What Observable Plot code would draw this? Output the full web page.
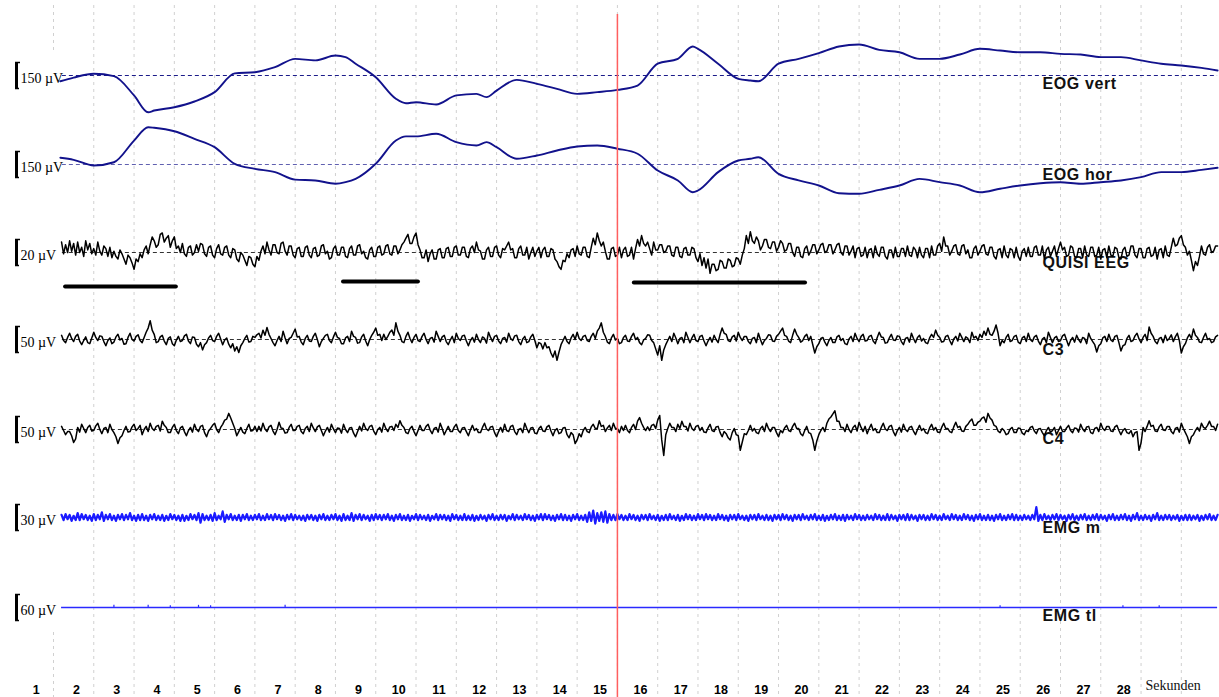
<!DOCTYPE html>
<html><head><meta charset="utf-8">
<script src="https://cdn.jsdelivr.net/npm/d3@7"></script>
<script src="https://cdn.jsdelivr.net/npm/@observablehq/plot@0.6"></script>
<style>html,body{margin:0;padding:0;background:#fff;overflow:hidden}</style>
</head><body><div id="chart"></div>
<script>
// ---- categories / labels ----
const channelNames = ["EOG vert", "EOG hor", "QUISI EEG", "C3", "C4", "EMG m", "EMG tl"];
const scaleLabels = ["150 µV", "150 µV", "20 µV", "50 µV", "50 µV", "30 µV", "60 µV"];
const scaleValues = [150, 150, 20, 50, 50, 30, 60]; // µV represented by the calibration bar
const secondLabels = d3.range(1, 29);               // 1 … 28
const gridSeconds = d3.range(1, 30);                // 1 … 29
const cursorSecond = 15;
const axisTitle = "Sekunden";

// ---- EOG (slow) series, µV ----
const eogTimes = [1.17,1.5,2,2.5,3,3.35,3.5,4,4.5,5,5.5,6,6.5,7,7.5,8,8.25,8.5,9,9.5,9.75,10,10.5,11,11.5,11.75,12,12.5,13,13.5,14,14.5,15,15.5,16,16.5,16.87,17,17.5,18,18.3,18.5,19,19.5,20,20.5,21,21.5,22,22.5,23,23.5,24,24.5,25,25.5,26,26.5,27,27.5,28,28.5,29,29.5,29.9];
const eogVert = [-33,-12,10,-4,-115,-212,-202,-183,-150,-96,12,19,48,96,87,115,106,68,-10,-134,-160,-154,-167,-115,-106,-125,-87,-25,-48,-77,-106,-96,-83,-58,68,96,167,154,68,-19,-29,-33,68,96,129,167,179,148,134,96,96,121,154,144,134,134,125,121,106,106,87,68,58,44,29];
const eogHor = [39,27,-6,13,138,215,212,192,148,100,4,-25,-44,-87,-92,-111,-102,-83,4,138,162,162,177,129,110,129,100,33,52,81,104,110,91,62,-35,-92,-160,-150,-44,23,33,42,-54,-92,-121,-166,-169,-146,-121,-83,-102,-121,-160,-140,-121,-108,-102,-111,-102,-92,-73,-44,-44,-31,-19];

// ---- EEG / EMG series, µV, one value every 0.05 s starting at 1.2 s (one row = 1 s) ----
const eegStart = 1.2, eegStep = 0.05;
const quisiEEG = [
 8,-1,6,0,9,1,7,-2,8,0,4,-3,9,2,7,-1,3,-2,8,1,
 -2,5,3,-3,4,-4,1,-3,-5,2,-1,-5,-9,-2,-4,-8,-13,-5,-7,-1,
 -4,2,5,-1,6,12,9,4,6,14,15,8,11,13,4,9,12,3,5,0,
 7,-1,-3,4,5,-2,0,6,1,7,6,-1,-3,4,5,-2,-4,3,6,-1,
 -2,4,5,-2,-4,3,2,-5,-7,0,-2,-6,-10,-3,-4,-9,-11,-3,-6,1,
 5,-1,8,2,-2,6,6,0,-1,7,8,1,-2,5,5,-2,-4,3,4,-3,
 -3,4,5,-2,-4,3,4,-3,-2,5,6,-1,1,-5,-4,3,5,-2,-2,4,
 4,-3,-4,3,5,-2,-2,5,6,-1,1,-4,-5,2,4,-3,-3,4,5,-2,
 -1,5,6,-1,-2,5,5,-1,2,6,8,11,14,7,7,12,15,6,2,-4,
 -4,2,-7,-1,2,-5,-5,2,3,-4,-4,3,4,-3,-3,4,5,-2,-2,4,
 4,-3,-4,3,5,0,8,2,1,-5,-5,2,4,-3,-3,4,5,-2,-4,3,
 2,5,8,2,3,-4,-4,3,5,-2,-2,4,-5,0,4,-3,1,4,-4,2,
 4,-3,-3,3,2,-5,-7,-11,-13,-6,-7,-1,-4,2,3,-3,5,-1,-2,4,
 4,-3,-4,4,11,6,15,9,5,8,1,-5,-5,3,4,-3,-2,4,-4,2,
 4,-3,-2,4,-5,3,10,5,13,7,5,8,3,-2,8,2,2,6,6,0,
 1,5,5,-2,-3,4,4,-3,-4,3,4,-2,-2,4,3,-4,-7,-1,-10,-4,
 -12,-5,-16,-9,-9,-14,-13,-6,-7,-12,-12,-5,-6,-11,-10,-4,-5,-9,-2,3,
 13,7,16,9,7,12,9,2,5,10,10,4,3,8,8,1,4,9,7,1,
 2,7,7,0,-3,4,4,-3,-4,3,5,-2,1,6,6,-1,2,6,7,0,
 1,6,6,-1,2,6,7,0,-2,5,5,-2,1,5,-4,3,4,-3,-2,4,
 -4,2,3,-4,5,-1,-3,4,4,-3,-5,2,2,-4,4,-3,-3,3,3,-3,
 5,-2,-3,4,2,-4,4,-2,-4,3,3,-4,5,-2,-2,5,7,1,12,5,
 5,-2,1,5,6,-1,-2,5,6,-1,2,-4,-4,3,5,-2,1,5,6,-1,
 -2,4,4,-3,-5,2,3,-4,5,-2,-4,3,2,-4,4,-3,-6,1,3,-3,
 4,-3,-3,4,5,-2,-2,5,-5,2,4,-3,1,5,-3,3,8,2,4,-3,
 -2,5,4,-3,-4,3,3,-4,5,-2,-3,4,4,-3,-2,4,-5,2,3,-4,
 5,-2,-3,4,3,-4,-5,2,4,-3,-2,5,5,-2,-4,3,3,-4,-4,3,
 4,-3,-2,4,-5,2,3,-4,5,-2,-3,4,11,5,6,11,13,6,4,-2,
 1,-6,-14,-7,-10,-3,5,-1,-2,4,6,0,1,5,5];
const c3 = [
 8,-2,-6,4,12,2,-4,6,10,-3,-10,-2,5,-6,-8,3,14,4,-2,7,
 6,-4,-12,-2,3,-8,-5,5,10,-1,2,-9,-8,4,12,0,-3,6,9,-2,
 -6,4,14,22,36,18,10,-6,-4,5,8,-3,-10,2,5,-8,-12,-1,6,-4,
 -2,7,10,-3,-8,5,4,-9,-14,-6,-20,-10,-6,3,8,-2,-4,6,12,1,
 -10,-1,3,-9,-16,-8,-22,-14,-25,-12,-6,2,8,-5,-4,6,4,9,12,3,
 18,8,23,10,2,-6,-12,-2,6,-4,16,3,-8,2,4,12,20,5,6,-5,
 -10,2,8,-3,-4,6,12,0,-14,-4,2,8,10,-2,-6,5,14,4,2,-8,
 -8,3,6,-4,16,6,4,-7,-6,5,10,-3,-12,0,8,14,22,8,10,-2,
 10,0,6,14,18,8,32,16,8,-4,-6,6,14,2,-6,4,10,-2,-4,6,
 12,0,-8,2,4,-5,16,6,-4,5,8,-4,-10,-1,6,-6,12,2,-2,7,
 8,-3,-12,-2,4,-5,10,0,-6,5,2,-7,14,4,-4,6,8,-3,-8,2,
 4,-5,12,2,-2,7,8,-4,-10,1,6,-6,-4,5,10,-2,-16,-6,-8,-18,
 -6,-16,-14,-26,-34,-22,-40,-24,-10,-2,6,-4,-8,3,10,0,14,2,-2,6,
 8,-2,-4,6,12,2,16,22,32,14,6,-5,-8,3,10,-1,2,-8,-6,4,
 8,-3,-4,6,12,0,4,-6,-10,-1,2,9,8,-2,-6,-18,-30,-12,-40,-20,
 -10,-2,6,-4,12,3,-8,2,4,-6,14,4,-6,3,10,-2,-4,6,8,-3,
 -12,-3,4,-5,8,0,-6,10,22,12,10,-2,-4,5,8,-3,14,4,-2,6,
 6,-4,-8,2,4,-6,12,0,-10,-2,2,9,8,-3,-4,6,10,16,22,8,
 6,-3,-6,8,20,10,4,-5,-2,6,10,-2,6,-10,-26,-14,-8,2,4,-5,
 -12,-2,4,-6,-6,5,8,-2,2,-8,-10,1,6,-4,12,2,-4,6,10,-3,
 -2,6,8,-3,-8,4,14,5,4,-7,-6,3,10,-1,-2,7,6,-4,-10,2,
 4,-5,12,2,-6,4,8,-3,2,-6,-8,3,10,4,18,8,4,-5,-4,6,
 8,-2,-10,1,6,-3,12,4,-4,5,2,-6,14,3,6,-2,10,4,16,8,
 22,10,8,16,28,12,-12,-2,-6,4,10,-4,-2,6,8,-5,-8,3,6,-4,
 12,0,-4,5,8,-3,-10,1,4,-6,14,4,-6,3,6,-4,-2,7,10,-1,
 -12,-2,4,-5,8,0,-6,4,2,-8,12,2,-4,-10,-24,-12,-8,3,6,-4,
 10,-1,-4,6,8,-6,-22,-12,-10,2,8,-4,-2,7,12,1,-6,4,10,-2,
 24,12,6,-4,-8,2,4,-6,8,-2,2,9,-4,5,12,-2,-26,-14,-8,3,
 10,2,20,8,4,-5,-6,4,12,0,2,-6,-4,5,8];
const c4 = [
 6,-2,-10,-4,-4,-12,-25,-18,4,-5,10,2,-6,4,8,-3,-2,7,12,0,
 -8,2,4,-6,10,0,-6,-14,-27,-16,-12,-2,6,-5,-4,5,10,-2,2,8,
 -10,0,6,-4,12,2,-2,6,8,-3,16,8,4,-6,-6,4,10,-2,-8,3,
 6,-4,-12,-2,4,-5,10,0,-4,6,8,-6,-14,-3,2,8,12,0,-6,4,
 10,18,20,31,22,12,2,-12,-4,4,-5,-8,2,10,-3,-2,6,-4,6,-3,
 12,1,-4,5,8,-3,-10,0,14,3,2,-7,-6,4,10,-2,-2,6,8,-4,
 -8,2,6,-4,12,3,-4,5,8,-2,-12,-3,4,-5,10,1,-6,3,2,-7,
 10,0,-6,3,4,-7,-14,-4,6,-3,12,2,-2,6,8,-3,-10,0,4,-5,
 12,2,-4,5,6,-2,10,4,17,8,4,-6,-8,2,6,-4,-12,-2,8,-2,
 -2,6,10,-1,-8,2,4,-5,12,2,-10,-2,6,-4,-4,5,10,-2,-6,3,
 4,-4,-12,-1,8,-2,2,-6,-6,4,12,1,-2,5,6,-6,-14,-4,4,-5,
 10,-2,-4,6,8,-4,-10,0,2,-6,12,2,-6,3,4,-7,-8,2,6,-3,
 -4,5,8,-3,-12,-2,2,-8,-6,3,4,-10,-16,-6,-10,-27,-20,-8,-14,-2,
 4,-4,-6,5,10,2,2,17,6,8,-4,3,8,-2,12,2,2,-6,6,-2,
 8,-2,-6,4,10,0,16,23,12,4,-2,5,-2,8,10,2,18,27,-20,-50,
 -10,2,12,4,4,-4,10,2,16,6,6,-3,12,2,-2,6,8,-2,4,-5,
 -6,3,10,-2,-4,5,6,-6,-14,-4,-8,-16,-20,-6,2,-10,-12,-40,-24,-8,
 -10,-2,8,-3,2,-6,-8,2,6,-4,12,2,-4,4,4,-6,-14,-2,-6,3,
 8,-2,-4,6,12,2,2,-8,-12,-2,6,-6,-8,-20,-40,-22,-10,-2,4,-4,
 12,20,24,30,36,16,16,4,4,-4,10,0,-6,4,8,-3,14,4,-4,6,
 -8,2,10,-2,2,-6,-6,4,12,1,-2,6,8,-4,-12,-2,4,-5,10,0,
 -4,4,6,-3,-10,0,8,-2,2,-6,-8,3,10,-1,4,-5,-6,4,12,2,
 2,-4,-6,5,14,4,6,-3,-4,6,10,16,20,8,8,14,16,22,24,14,
 31,22,18,8,6,-3,-6,2,-2,-10,-8,1,4,-6,-6,3,2,-7,-10,-2,
 -4,4,6,-3,-8,1,2,-6,-12,-2,4,-5,-2,4,-10,-2,6,-4,-4,3,
 8,-2,-6,3,2,-5,10,1,-4,5,6,-6,-8,2,4,-4,12,2,-2,6,
 6,-3,-4,5,8,-2,-10,-2,2,-6,-8,-2,-14,-6,-4,-40,-26,4,-4,6,
 17,6,8,-3,-4,5,10,-1,-2,6,6,-4,-8,2,4,-5,12,2,-6,-14,
 -27,-14,-10,-2,4,-3,12,4,2,8,16,6,6,-2,10];
const emgM = [
 3,-3,4,-2,3,-4,2,-3,5,-3,4,-2,3,-3,2,-4,4,-3,3,-2,
 6,-4,3,-2,4,-3,2,-4,3,-2,4,-3,3,-2,5,-3,2,-4,3,-3,
 4,-3,2,-4,3,-2,4,-3,2,-3,3,-4,2,-3,4,-2,3,-3,2,-4,
 3,-4,2,-3,4,-2,3,-3,5,-6,4,-3,2,-3,3,-4,5,-3,2,-2,
 7,-5,3,-2,4,-3,2,-3,3,-4,3,-2,4,-3,2,-3,3,-2,4,-3,
 2,-3,4,-2,3,-3,4,-2,3,-3,2,-4,3,-2,4,-3,3,-2,2,-3,
 2,-4,3,-2,3,-3,2,-4,3,-2,4,-3,2,-3,3,-2,4,-3,2,-4,
 4,-3,2,-3,5,-4,3,-2,4,-3,3,-2,2,-4,3,-3,4,-2,3,-3,
 3,-2,4,-3,2,-4,3,-2,4,-3,2,-3,3,-4,2,-2,4,-3,3,-2,
 2,-3,3,-4,2,-2,4,-3,3,-2,3,-3,2,-4,4,-2,3,-3,2,-3,
 4,-3,2,-3,3,-4,2,-3,3,-2,2,-4,3,-2,4,-3,2,-3,3,-2,
 3,-4,2,-2,4,-3,3,-2,2,-3,4,-2,3,-3,2,-4,3,-2,4,-3,
 4,-2,3,-3,2,-4,3,-2,4,-3,3,-3,2,-4,3,-2,4,-3,2,-3,
 3,-5,6,-4,8,-7,5,-4,6,-5,7,-6,4,-3,3,-3,4,-2,3,-3,
 2,-3,4,-2,3,-3,2,-4,3,-2,3,-3,4,-2,2,-3,3,-4,2,-3,
 3,-3,4,-2,2,-3,3,-4,2,-3,4,-2,3,-3,2,-3,4,-2,3,-3,
 4,-2,3,-3,2,-3,4,-2,3,-3,2,-4,3,-2,3,-3,4,-2,2,-3,
 2,-4,3,-2,3,-3,4,-2,2,-3,3,-3,2,-4,3,-2,3,-3,4,-2,
 3,-3,2,-4,3,-2,3,-3,4,-2,2,-3,3,-2,4,-3,2,-3,3,-4,
 2,-3,3,-2,4,-3,2,-3,3,-4,3,-2,2,-3,4,-2,3,-3,2,-3,
 3,-2,2,-3,4,-2,3,-3,2,-3,4,-3,3,-2,2,-4,3,-2,3,-3,
 4,-3,3,-2,2,-4,3,-2,3,-3,2,-3,4,-2,3,-3,2,-3,4,-2,
 2,-3,4,-2,3,-3,2,-3,4,-2,3,-3,2,-4,3,-2,4,-3,2,-3,
 3,-3,2,-4,3,-2,4,-3,2,-3,3,-2,4,-3,3,-3,2,-3,3,-2,
 2,-3,3,-2,12,-4,3,-3,4,-2,2,-3,3,-2,4,-3,3,-2,2,-4,
 3,-2,4,-3,2,-3,3,-2,4,-3,2,-3,3,-2,4,-3,3,-2,2,-4,
 3,-2,4,-3,2,-3,3,-2,4,-3,2,-4,3,-2,5,-3,2,-3,3,-2,
 2,-4,3,-2,5,-3,2,-3,3,-2,3,-3,2,-2,3,-4,2,-3,3,-3,
 3,-3,2,-2,3,-4,2,-3,3,-2,4,-3,2,-3,3];
// EMG tl is flat apart from tiny blips (time in s, µV)
const emgTlBlipTimes = [2.5, 3.35, 3.9, 4.6, 4.9, 6.75, 24.5, 27.55, 28.45];
const emgTlBlipValues = [5, 5, 4, 5, 4, 5, 4, 4, 4];
const traceStart = 1.2, traceEnd = 29.9;

// scored events (black bars under QUISI EEG), seconds
const eventStarts = [1.30, 8.20, 15.42];
const eventEnds = [4.05, 10.06, 19.67];

// ---- layout (pixels) ----
const W = 1219, H = 697;
const pxPerSec = 40.28, firstGridPx = 53;
const baselines = [75, 164, 252, 339, 429, 517, 607];
const nameDy = [8, 10, 10, 10, 9, 10, 8];
const barPx = 26;
const eventRows = [286, 281, 282];

const yOf = (ch, v) => baselines[ch] - v * barPx / scaleValues[ch];

const eogRows = [];
eogTimes.forEach((t, i) => {
  eogRows.push({ch: 0, t, y: yOf(0, eogVert[i])});
  eogRows.push({ch: 1, t, y: yOf(1, eogHor[i])});
});
const sampled = (arr, ch) => arr.map((v, i) => ({ch, t: eegStart + i * eegStep, y: yOf(ch, v)}));
const quisiRows = sampled(quisiEEG, 2), c3Rows = sampled(c3, 3), c4Rows = sampled(c4, 4), emgRows = sampled(emgM, 5);
const chIdx = d3.range(channelNames.length);
const xPx = px => 1 + (px - firstGridPx) / pxPerSec; // pixel → seconds for annotations
const grid = {stroke: "#d0d0d0", strokeDasharray: "3,4"};

const plot = Plot.plot({
  width: W, height: H,
  marginTop: 0, marginBottom: 0, marginLeft: 0, marginRight: 0,
  x: {domain: [1, 29], range: [firstGridPx, firstGridPx + 28 * pxPerSec], axis: null},
  y: {domain: [0, H], range: [0, H], axis: null},
  style: {background: "#fff", overflow: "visible"},
  marks: [
    // second grid
    Plot.ruleX(gridSeconds.filter(s => s > 1), {x: d => d, y1: 5, y2: H, ...grid}),
    Plot.ruleX([1], {x: d => d, y1: 5, y2: 52, ...grid}),
    Plot.ruleX([1], {x: d => d, y1: 632, y2: H, ...grid}),
    // channel baselines
    Plot.ruleY([0], {y: () => baselines[0], x1: 1.22, x2: traceEnd, stroke: "#1c1c8a", strokeDasharray: "4,3"}),
    Plot.ruleY([1], {y: () => baselines[1], x1: 1.22, x2: traceEnd, stroke: "#6060b0", strokeDasharray: "4,3"}),
    Plot.ruleY([2, 3, 4], {y: d => baselines[d], x1: 1.22, x2: traceEnd, stroke: "#333", strokeDasharray: "4,3"}),
    // channel names (under the traces)
    Plot.text(chIdx, {x: xPx(1042), y: d => baselines[d] + nameDy[d], text: d => channelNames[d],
      textAnchor: "start", lineAnchor: "middle", fontFamily: "Liberation Sans, Arial, sans-serif", fontSize: 16, fontWeight: "bold", fill: "#111"}),
    // traces
    Plot.line(eogRows, {x: "t", y: "y", z: "ch", stroke: "#12128c", strokeWidth: 1.9, curve: "monotone-x"}),
    Plot.line(quisiRows, {x: "t", y: "y", stroke: "#000", strokeWidth: 1.5}),
    Plot.line(c3Rows, {x: "t", y: "y", stroke: "#000", strokeWidth: 1.5}),
    Plot.line(c4Rows, {x: "t", y: "y", stroke: "#000", strokeWidth: 1.5}),
    Plot.line(emgRows, {x: "t", y: "y", stroke: "#1a1aff", strokeWidth: 2.2}),
    Plot.ruleY([6], {y: d => baselines[d], x1: traceStart, x2: traceEnd, stroke: "#2a2aff", strokeWidth: 1.3}),
    Plot.ruleX(emgTlBlipTimes, {x: d => d, y1: baselines[6], y2: (d, i) => yOf(6, emgTlBlipValues[i]), stroke: "#2a2aff", strokeWidth: 1.2}),
    // scored events
    Plot.ruleY(eventStarts, {y: (d, i) => eventRows[i], x1: d => d, x2: (d, i) => eventEnds[i], stroke: "#000", strokeWidth: 4, strokeLinecap: "round"}),
    // cursor
    Plot.ruleX([cursorSecond], {x: d => d, y1: 14, y2: H, stroke: "#ff5f5f", strokeWidth: 1.5}),
    // calibration bars
    Plot.ruleX(chIdx, {x: xPx(16), y1: d => baselines[d] - barPx / 2, y2: d => baselines[d] + barPx / 2, stroke: "#000", strokeWidth: 3}),
    Plot.ruleY(chIdx, {y: d => baselines[d] - barPx / 2, x1: xPx(15), x2: xPx(20), stroke: "#000", strokeWidth: 1.5}),
    Plot.ruleY(chIdx, {y: d => baselines[d] + barPx / 2, x1: xPx(15), x2: xPx(19), stroke: "#000", strokeWidth: 1.5}),
    Plot.text(chIdx, {x: xPx(20), y: d => baselines[d] + 3, text: d => scaleLabels[d], textAnchor: "start", lineAnchor: "middle",
      fontFamily: "Liberation Serif, Times New Roman, serif", fontSize: 14, fill: "#000"}),
    // time labels
    Plot.text(secondLabels, {x: d => d - 0.43, y: 689, text: d => String(d), lineAnchor: "middle",
      fontFamily: "Liberation Sans, Arial, sans-serif", fontWeight: "bold", fontSize: 12.5, fill: "#000"}),
    Plot.text([axisTitle], {x: xPx(1145), y: 685, text: d => d, textAnchor: "start", lineAnchor: "middle",
      fontFamily: "Liberation Serif, Times New Roman, serif", fontSize: 14, fill: "#111"})
  ]
});
d3.select(plot).selectAll("text").filter(function () { return channelNames.includes(this.textContent); })
  .attr("letter-spacing", "0.6");
document.getElementById("chart").appendChild(plot);
</script>
</body></html>
